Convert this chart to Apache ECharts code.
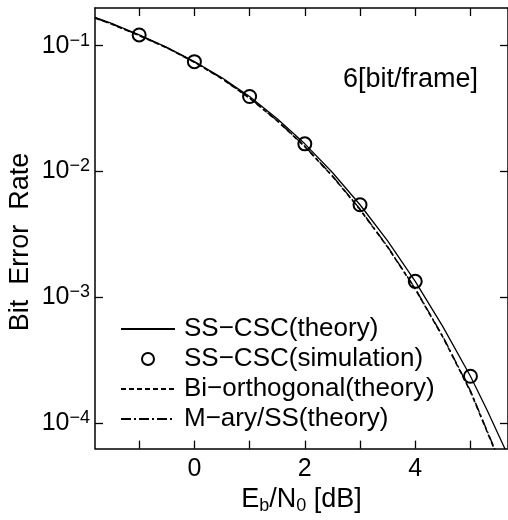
<!DOCTYPE html>
<html><head><meta charset="utf-8">
<script src="https://cdn.jsdelivr.net/npm/echarts@6/dist/echarts.min.js"></script>
<style>html,body{margin:0;padding:0;background:#fff}#c{width:508px;height:520px}</style>
</head><body><div id="c"></div>
<script>
// Eb/N0 [dB] sample points
const ebn0Theory = [-1.8, -1.5, -1, -0.5, 0, 0.5, 1, 1.5, 2, 2.5, 3, 3.5, 4, 4.5, 5, 5.3, 5.65];
const berSSCSCTheory = [0.168, 0.1507, 0.1216, 0.0970, 0.0746, 0.0555, 0.0394, 0.02624, 0.01656, 0.00980, 0.00543, 0.00280, 0.001337, 0.000583, 0.000235, 0.0001268, 0.0000589];
const ebn0Sim = [-1, 0, 1, 2, 3, 4, 5];
const berSSCSCSim = [0.1216, 0.0746, 0.0394, 0.01656, 0.00543, 0.001336, 0.000235];
const ebn0Other = [-1.8, -1.5, -1, -0.5, 0, 0.5, 1, 1.5, 2, 2.5, 3, 3.5, 4, 4.5, 5, 5.3, 5.5];
const berBiOrth = [0.1660, 0.1486, 0.1202, 0.0962, 0.0738, 0.0545, 0.0382, 0.02523, 0.01574, 0.00916, 0.00497, 0.00250, 0.00116, 0.000482, 0.0001775, 0.0000855, 0.0000525];
const berMary = [0.1665, 0.1490, 0.1207, 0.0966, 0.0741, 0.0548, 0.0384, 0.02537, 0.01583, 0.00922, 0.00501, 0.00252, 0.00117, 0.000487, 0.000180, 0.0000868, 0.0000533];
const xTicks = [-1, 0, 1, 2, 3, 4, 5];
const xLabels = [0, 2, 4];
const yTicks = [1e-4, 1e-3, 1e-2, 1e-1];
const legendNames = ['SS\u2212CSC(theory)', 'SS\u2212CSC(simulation)', 'Bi\u2212orthogonal(theory)', 'M\u2212ary/SS(theory)'];
const annotation = '6[bit/frame]';
const yTitle = 'Bit  Error  Rate';

const FONT = '"Liberation Sans", Arial, sans-serif';
const zip = (xs, ys) => xs.map((x, i) => [x, ys[i]]);

const chart = echarts.init(document.getElementById('c'), null, {renderer: 'canvas'});
const axisLine = {show: true, onZero: false, lineStyle: {color: '#000', width: 1.5}};
const tickStyle = {lineStyle: {color: '#000', width: 1.3}};
const hiddenSymbol = {opacity: 0};
chart.setOption({
  animation: false,
  backgroundColor: '#fff',
  grid: {left: 95, right: -1, top: 8, bottom: 71, containLabel: false},
  xAxis: [{
    type: 'value', min: -1.8, max: 5.68, position: 'bottom',
    axisLine: axisLine,
    axisTick: Object.assign({show: true, inside: true, length: 8, customValues: xTicks}, tickStyle),
    axisLabel: {show: true, customValues: xLabels, margin: 8, fontSize: 25, fontFamily: FONT, color: '#000'},
    splitLine: {show: false},
    name: '{a|E}{s|b}{a|/N}{s|0}{a| [dB]}', nameLocation: 'middle', nameGap: 36,
    nameTextStyle: {rich: {
      a: {fontSize: 27, fontFamily: FONT, color: '#000', lineHeight: 30},
      s: {fontSize: 18, fontFamily: FONT, color: '#000', verticalAlign: 'bottom', lineHeight: 18}
    }}
  }, {
    type: 'value', min: -1.8, max: 5.68, position: 'top',
    axisLine: axisLine,
    axisTick: Object.assign({show: true, inside: true, length: 8, customValues: xTicks}, tickStyle),
    axisLabel: {show: false}, splitLine: {show: false}
  }],
  yAxis: [{
    type: 'log', logBase: 10, min: 6.25e-5, max: 0.1992, position: 'left',
    axisLine: axisLine,
    axisTick: Object.assign({show: true, inside: true, length: 8, customValues: yTicks}, tickStyle),
    axisLabel: {
      show: true, customValues: yTicks, margin: 5,
      formatter: v => '{b|10}{s|\u2212' + (-Math.round(Math.log10(v))) + '}',
      rich: {
        b: {fontSize: 25, fontFamily: FONT, color: '#000', lineHeight: 28},
        s: {fontSize: 18, fontFamily: FONT, color: '#000', verticalAlign: 'top', lineHeight: 18}
      }
    },
    splitLine: {show: false}
  }, {
    type: 'log', logBase: 10, min: 6.25e-5, max: 0.1992, position: 'right',
    axisLine: axisLine,
    axisTick: Object.assign({show: true, inside: true, length: 8, customValues: yTicks}, tickStyle),
    axisLabel: {show: false}, splitLine: {show: false}
  }],
  legend: {
    orient: 'vertical', left: 115, top: 311,
    itemWidth: 54, itemHeight: 12, itemGap: 4,
    textStyle: {fontSize: 26, fontFamily: FONT, color: '#000', lineHeight: 26, padding: [0, 0, 0, 4]},
    data: [
      {name: legendNames[0], itemStyle: hiddenSymbol},
      {name: legendNames[1]},
      {name: legendNames[2], itemStyle: hiddenSymbol},
      {name: legendNames[3], itemStyle: hiddenSymbol}
    ]
  },
  series: [{
    name: legendNames[0], type: 'line', data: zip(ebn0Theory, berSSCSCTheory),
    symbol: 'none', smooth: false,
    lineStyle: {color: '#000', width: 1.3, type: 'solid'}, itemStyle: {color: '#000'}
  }, {
    name: legendNames[1], type: 'scatter', data: zip(ebn0Sim, berSSCSCSim),
    symbol: 'emptyCircle', symbolSize: 13,
    itemStyle: {color: '#000', borderColor: '#000', borderWidth: 1, opacity: 1}
  }, {
    name: legendNames[2], type: 'line', data: zip(ebn0Other, berBiOrth),
    symbol: 'none', smooth: false,
    lineStyle: {color: '#000', width: 1.6, type: [5, 3]}, itemStyle: {color: '#000'}
  }, {
    name: legendNames[3], type: 'line', data: zip(ebn0Other, berMary),
    symbol: 'none', smooth: false,
    lineStyle: {color: '#000', width: 1.4, type: [10, 3, 2, 3]}, itemStyle: {color: '#000'}
  }],
  graphic: [{
    type: 'text', x: 21, y: 242, rotation: Math.PI / 2,
    style: {text: yTitle, font: '27px ' + FONT, fill: '#000', align: 'center', verticalAlign: 'middle'}
  }, {
    type: 'text', x: 343, y: 80,
    style: {text: annotation, font: '27px ' + FONT, fill: '#000', align: 'left', verticalAlign: 'middle'}
  }]
});
</script>
</body></html>
